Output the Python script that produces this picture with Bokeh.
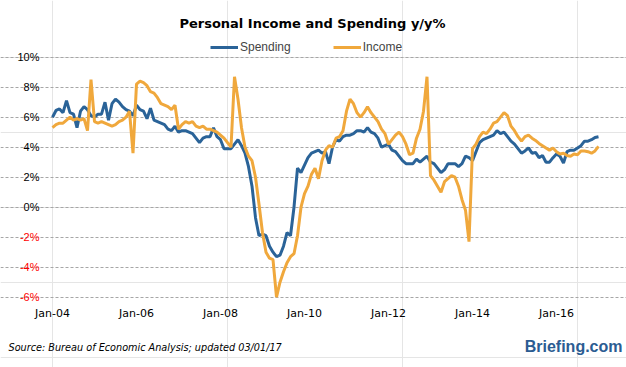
from bokeh.plotting import figure
from bokeh.models import Range1d, FixedTicker, Label, LabelSet, ColumnDataSource, Legend, LegendItem, Grid
from bokeh.core.properties import value
from bokeh.embed import file_html
from bokeh.resources import INLINE

# ---- data (monthly, Jan-2004 .. Jan-2017), y/y % ----
spending = [
    6.0, 6.45, 6.55, 6.3, 7.1, 6.3, 6.2, 5.3, 6.4, 6.7, 6.5, 6.1,
    6.0, 6.2, 6.2, 7.0, 5.8, 6.9, 7.2, 7.0, 6.7, 6.5, 6.4, 6.1,
    6.8, 6.5, 6.4, 5.9, 6.6, 5.8, 5.7, 5.6, 5.5, 5.2, 5.1, 5.4,
    5.0, 5.1, 5.1, 5.0, 4.9, 4.6, 4.3, 4.6, 4.7, 4.7, 5.3, 4.7,
    4.5, 3.9, 3.9, 3.9, 4.2, 4.5, 4.1, 3.6, 2.7, 1.4, -0.7, -1.9,
    -1.8, -1.9, -2.6, -3.0, -3.3, -3.2, -2.6, -1.7, -1.9, 0.0, 2.6, 2.3,
    2.8, 3.3, 3.6, 3.7, 3.8, 3.6, 3.7, 2.9, 4.0, 4.5, 4.4, 4.7,
    4.8, 4.8, 4.9, 5.1, 5.1, 5.0, 5.3, 5.0, 4.9, 4.6, 4.0, 4.1,
    4.2, 3.8, 3.7, 3.4, 3.1, 2.9, 2.9, 2.9, 3.2, 3.0, 3.2, 3.4,
    3.0, 2.9, 2.6, 2.3, 2.5, 2.9, 2.9, 2.9, 2.7, 2.9, 3.4, 3.3,
    3.1, 3.7, 4.3, 4.5, 4.6, 4.7, 4.8, 5.1, 4.9, 5.0, 4.7, 4.4,
    4.2, 3.9, 3.6, 3.75, 3.95, 3.6, 3.65, 3.3, 3.45, 3.0, 3.0, 3.3,
    3.55, 3.4, 2.95, 3.7, 3.8, 3.8, 3.95, 4.1, 4.4, 4.4, 4.5, 4.65, 4.7,
]
income = [
    5.3, 5.5, 5.6, 5.6, 5.8, 6.0, 5.8, 5.9, 5.8, 5.9, 5.1, 8.5,
    5.7, 5.6, 5.7, 5.6, 5.5, 5.4, 5.5, 5.7, 5.8, 6.0, 6.4, 3.6,
    8.2, 8.4, 8.3, 8.1, 7.7, 7.6, 7.3, 6.9, 6.8, 6.7, 6.5, 6.8,
    5.2, 5.5, 5.7, 5.6, 5.7, 5.4, 5.3, 5.4, 5.2, 5.2, 5.1, 5.0,
    4.8, 4.6, 4.3, 4.0, 8.7, 7.2, 5.3, 4.0, 3.4, 3.1, 2.0, 0.2,
    -1.7, -3.0, -3.4, -3.5, -6.0, -5.0, -4.3, -3.7, -3.3, -3.1, -1.9, 0.0,
    0.9, 1.4, 2.2, 2.6, 1.9, 3.1, 3.8, 4.1, 4.0, 4.6, 4.7, 5.1,
    6.4, 7.2, 6.9, 6.3, 6.0, 6.3, 6.7, 6.3, 6.0, 5.7, 5.2, 4.9,
    4.2, 4.5, 4.8, 5.0, 4.7, 4.2, 3.5, 3.6, 4.6, 5.2, 6.4, 8.7,
    2.1, 1.8, 1.4, 1.0, 1.7, 1.9, 2.1, 2.0, 1.4, 0.5, -0.2, -2.3,
    3.9, 4.2, 4.7, 5.0, 4.9, 5.2, 5.6, 5.7, 6.0, 6.3, 6.1, 5.4,
    5.1, 4.7, 4.4, 4.7, 4.8, 4.6, 4.45, 4.25, 4.1, 3.95, 3.8, 3.95,
    3.7, 3.55, 3.6, 3.45, 3.4, 3.55, 3.5, 3.75, 3.75, 3.7, 3.6, 3.75, 4.05,
]
months = list(range(len(spending)))          # month index from Jan-04
x_tick_pos = [0, 24, 48, 72, 96, 120, 144]
x_tick_labels = ["Jan-04", "Jan-06", "Jan-08", "Jan-10", "Jan-12", "Jan-14", "Jan-16"]
y_ticks = [-6, -4, -2, 0, 2, 4, 6, 8, 10]
y_tick_labels = ["-6%", "-4%", "-2%", "0%", "2%", "4%", "6%", "8%", "10%"]

TITLE = "Personal Income and Spending y/y%"
SOURCE = "Source: Bureau of Economic Analysis; updated 03/01/17"
BRAND = "Briefing.com"

BLUE = "#2A6398"
ORANGE = "#F0A83C"

# ---- layout: the frame covers the whole canvas; page px <-> data mapping ----
W, H = 626, 367
OFF = 0             # canvas offset within the page
PX_PER_MONTH = 3.5
PX_PER_PCT = 15.0
X0_PAGE = 52.0      # page x of first month
Y0_PAGE = 206.7     # page y of 0%

def dx(px):
    return (px - X0_PAGE) / PX_PER_MONTH

def dy(py):
    return (Y0_PAGE - py) / PX_PER_PCT

x_start, x_end = dx(OFF), dx(OFF + W)
y_start, y_end = dy(OFF + H), dy(OFF)
grid_x0, grid_x1 = dx(47), dx(599)

p = figure(width=W, height=H, output_backend="svg", toolbar_location=None,
           x_range=Range1d(x_start, x_end), y_range=Range1d(y_start, y_end),
           x_axis_location=None, y_axis_location=None,
           min_border=0, min_border_left=0, min_border_right=0,
           min_border_top=0, min_border_bottom=0)
p.outline_line_color = None
p.background_fill_color = "white"
p.border_fill_color = "white"
p.title.visible = False

grid = Grid(dimension=1, ticker=FixedTicker(ticks=y_ticks), bounds=(grid_x0, grid_x1),
            grid_line_color="#A6A6A6", grid_line_dash="3 2", grid_line_width=1)
p.add_layout(grid)

r_sp = p.line(months, spending, line_color=BLUE, line_width=3)
r_in = p.line(months, income, line_color=ORANGE, line_width=3)

# y tick labels (negative ones in red)
ysrc = ColumnDataSource(dict(
    x=[grid_x0] * len(y_ticks), y=y_ticks, text=y_tick_labels,
    color=["#FF0000" if t < 0 else "#000000" for t in y_ticks]))
p.add_layout(LabelSet(x="x", y="y", text="text", source=ysrc, x_offset=-8,
                      text_align="right", text_baseline="middle",
                      text_color="color", text_font=value("Liberation Sans"),
                      text_font_size="11px"))

# x tick labels
xsrc = ColumnDataSource(dict(x=x_tick_pos, y=[dy(313)] * len(x_tick_pos), text=x_tick_labels))
p.add_layout(LabelSet(x="x", y="y", text="text", source=xsrc,
                      text_align="center", text_baseline="middle",
                      text_color="#000000", text_font=value("DejaVu Sans"),
                      text_font_size="11px"))

# legend
legend = Legend(items=[LegendItem(label="Spending", renderers=[r_sp]),
                       LegendItem(label="Income", renderers=[r_in])],
                orientation="horizontal", location=(210 - OFF, (OFF + H) - 54),
                glyph_width=28, glyph_height=12, label_standoff=2, spacing=42,
                padding=2, margin=0, border_line_color=None, background_fill_alpha=0,
                label_text_font="Liberation Sans", label_text_font_size="12px")
p.add_layout(legend)

# title and footer
p.add_layout(Label(x=dx(312), y=dy(23), text=TITLE, text_align="center", text_baseline="middle",
                   text_font="DejaVu Sans", text_font_style="bold", text_font_size="13px",
                   text_color="black"))
p.add_layout(Label(x=dx(8), y=dy(347), text=SOURCE, text_align="left", text_baseline="middle",
                   text_font="DejaVu Sans", text_font_style="italic", text_font_size="9.7px",
                   text_color="black"))
p.add_layout(Label(x=dx(622), y=dy(346), text=BRAND, text_align="right", text_baseline="middle",
                   text_font="Liberation Sans", text_font_style="bold", text_font_size="16px",
                   text_color="#2B5C92"))

open("out.html", "w").write(file_html(p, INLINE))
